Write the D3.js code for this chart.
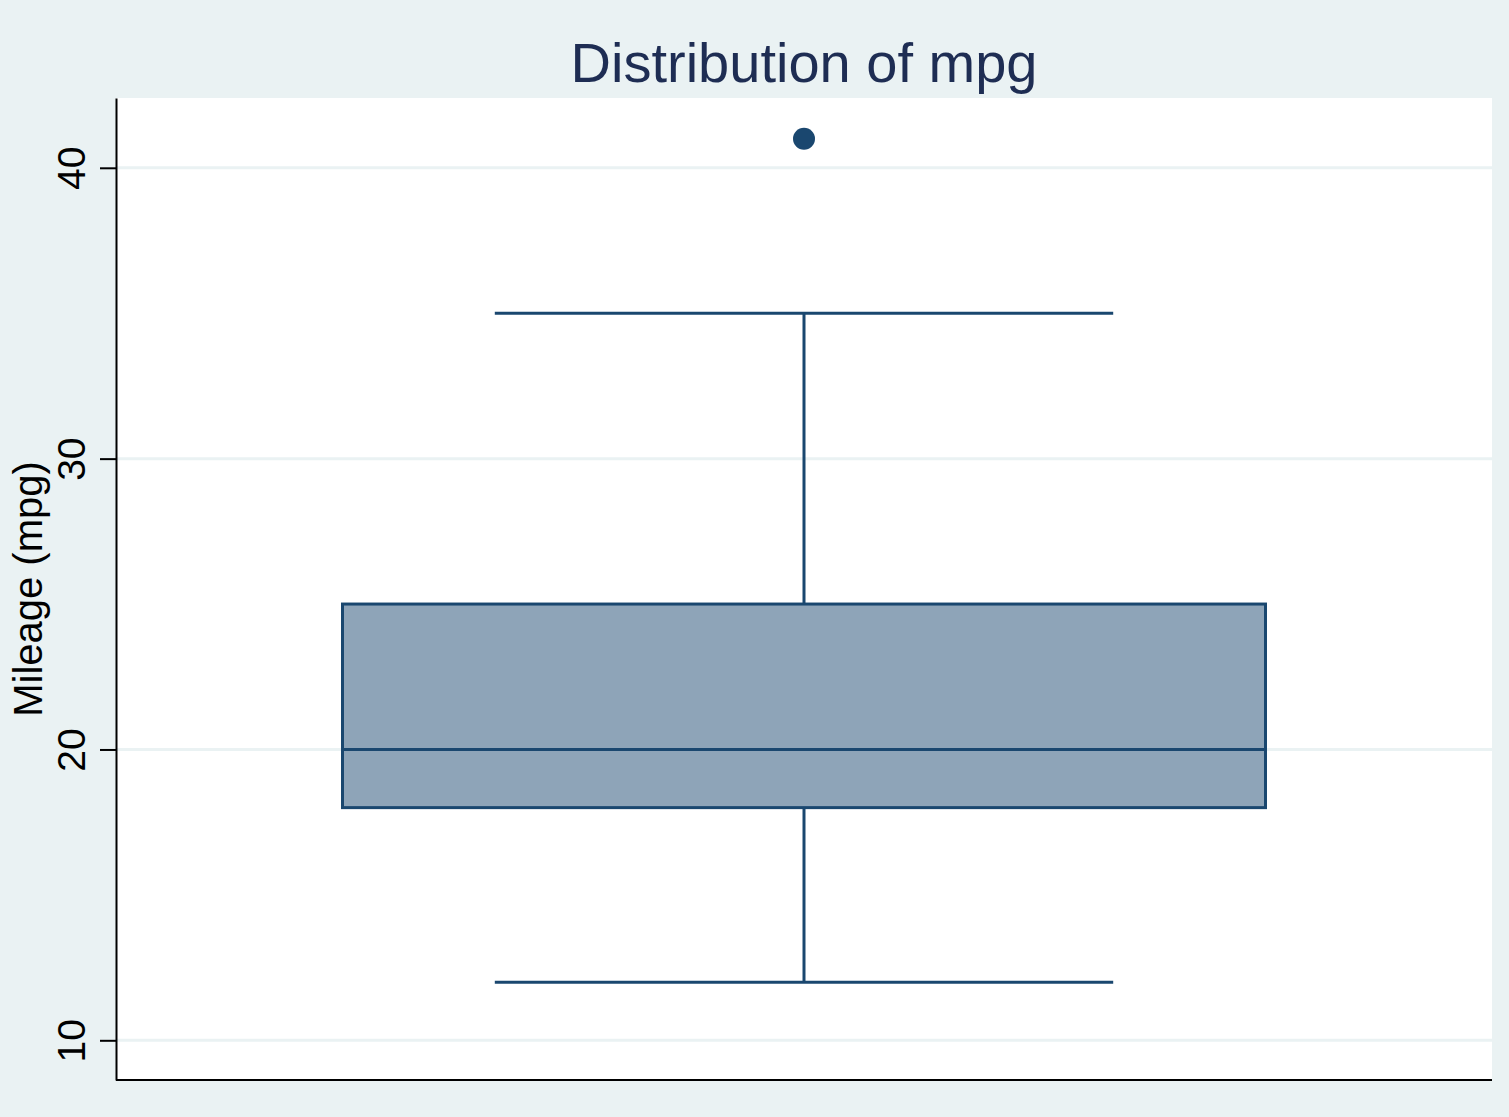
<!DOCTYPE html>
<html>
<head>
<meta charset="utf-8">
<script src="https://cdn.jsdelivr.net/npm/d3@7"></script>
<style>
  body { margin: 0; background: #eaf2f3; }
  svg { display: block; font-family: Arial, "Liberation Sans", sans-serif; }
</style>
</head>
<body>
<svg id="chart"></svg>
<script>
const categories = ['mpg']
const lowerWhisker = [12]
const q1 = [18]
const median = [20]
const q3 = [25]
const upperWhisker = [35]
const outliers = [[41]]
const yTicks = [10, 20, 30, 40]

const width = 1509
const height = 1117
const margin = { top: 98, right: 17, bottom: 37, left: 116 }
const navy = '#1a476f'

const svg = d3.select('#chart')
  .attr('width', width)
  .attr('height', height)

svg.append('rect')
  .attr('width', width)
  .attr('height', height)
  .attr('fill', '#eaf2f3')

svg.append('rect')
  .attr('x', margin.left)
  .attr('y', margin.top)
  .attr('width', width - margin.left - margin.right)
  .attr('height', height - margin.top - margin.bottom)
  .attr('fill', '#ffffff')

const x = d3.scaleBand()
  .domain(categories)
  .range([margin.left, width - margin.right])
  .paddingInner(0)
  .paddingOuter(0.2454)

const y = d3.scaleLinear()
  .domain([8.635, 42.40])
  .range([height - margin.bottom, margin.top])

// grid
svg.append('g')
  .selectAll('line')
  .data(yTicks)
  .enter().append('line')
  .attr('x1', margin.left)
  .attr('x2', width - margin.right)
  .attr('y1', d => y(d))
  .attr('y2', d => y(d))
  .attr('stroke', '#eaf2f3')
  .attr('stroke-width', 3)

const data = categories.map((c, i) => ({
  cat: c, lo: lowerWhisker[i], q1: q1[i], med: median[i], q3: q3[i], hi: upperWhisker[i], out: outliers[i]
}))

const box = svg.append('g')
  .selectAll('g')
  .data(data)
  .enter().append('g')

const cx = d => x(d.cat) + x.bandwidth() / 2
const capHalf = () => x.bandwidth() * 0.335

// whisker stems
box.append('line')
  .attr('x1', cx).attr('x2', cx)
  .attr('y1', d => y(d.q3)).attr('y2', d => y(d.hi))
  .attr('stroke', navy).attr('stroke-width', 3)
box.append('line')
  .attr('x1', cx).attr('x2', cx)
  .attr('y1', d => y(d.q1)).attr('y2', d => y(d.lo))
  .attr('stroke', navy).attr('stroke-width', 3)

// caps
box.selectAll('.cap')
  .data(d => [d.lo, d.hi].map(v => ({ v, d })))
  .enter().append('line')
  .attr('class', 'cap')
  .attr('x1', e => cx(e.d) - capHalf())
  .attr('x2', e => cx(e.d) + capHalf())
  .attr('y1', e => y(e.v))
  .attr('y2', e => y(e.v))
  .attr('stroke', navy).attr('stroke-width', 3)

// box
box.append('rect')
  .attr('x', d => x(d.cat))
  .attr('width', x.bandwidth())
  .attr('y', d => y(d.q3))
  .attr('height', d => y(d.q1) - y(d.q3))
  .attr('fill', '#8ea4b8')
  .attr('stroke', navy)
  .attr('stroke-width', 3)

box.append('line')
  .attr('x1', d => x(d.cat)).attr('x2', d => x(d.cat) + x.bandwidth())
  .attr('y1', d => y(d.med)).attr('y2', d => y(d.med))
  .attr('stroke', navy).attr('stroke-width', 3)

box.selectAll('circle')
  .data(d => d.out.map(v => ({ v, d })))
  .enter().append('circle')
  .attr('cx', e => cx(e.d))
  .attr('cy', e => y(e.v))
  .attr('r', 11)
  .attr('fill', navy)

// y axis
const yAxis = svg.append('g')
  .attr('transform', `translate(${margin.left},0)`)
  .call(d3.axisLeft(y).tickValues(yTicks).tickSize(16).tickPadding(0).tickSizeOuter(0))
yAxis.select('.domain').attr('stroke', '#000').attr('stroke-width', 2)
yAxis.selectAll('.tick line').attr('stroke', '#000').attr('stroke-width', 2)
yAxis.selectAll('.tick text')
  .attr('x', 0).attr('y', 0)
  .attr('dy', null)
  .attr('text-anchor', 'middle')
  .attr('transform', 'translate(-31,0) rotate(-90)')
  .attr('fill', '#000')
  .style('font-size', '39px')
  .style('font-family', 'Arial, "Liberation Sans", sans-serif')

// x axis line
svg.append('line')
  .attr('x1', margin.left)
  .attr('x2', width - margin.right)
  .attr('y1', height - margin.bottom)
  .attr('y2', height - margin.bottom)
  .attr('stroke', '#000')
  .attr('stroke-width', 2)

// labels
svg.append('text')
  .attr('transform', `translate(42,${(margin.top + height - margin.bottom) / 2}) rotate(-90)`)
  .attr('text-anchor', 'middle')
  .style('font-size', '40px')
  .attr('fill', '#000')
  .text('Mileage (mpg)')

svg.append('text')
  .attr('x', (margin.left + width - margin.right) / 2)
  .attr('y', 82)
  .attr('text-anchor', 'middle')
  .style('font-size', '56px')
  .attr('fill', '#1e2d53')
  .text('Distribution of mpg')
</script>
</body>
</html>
